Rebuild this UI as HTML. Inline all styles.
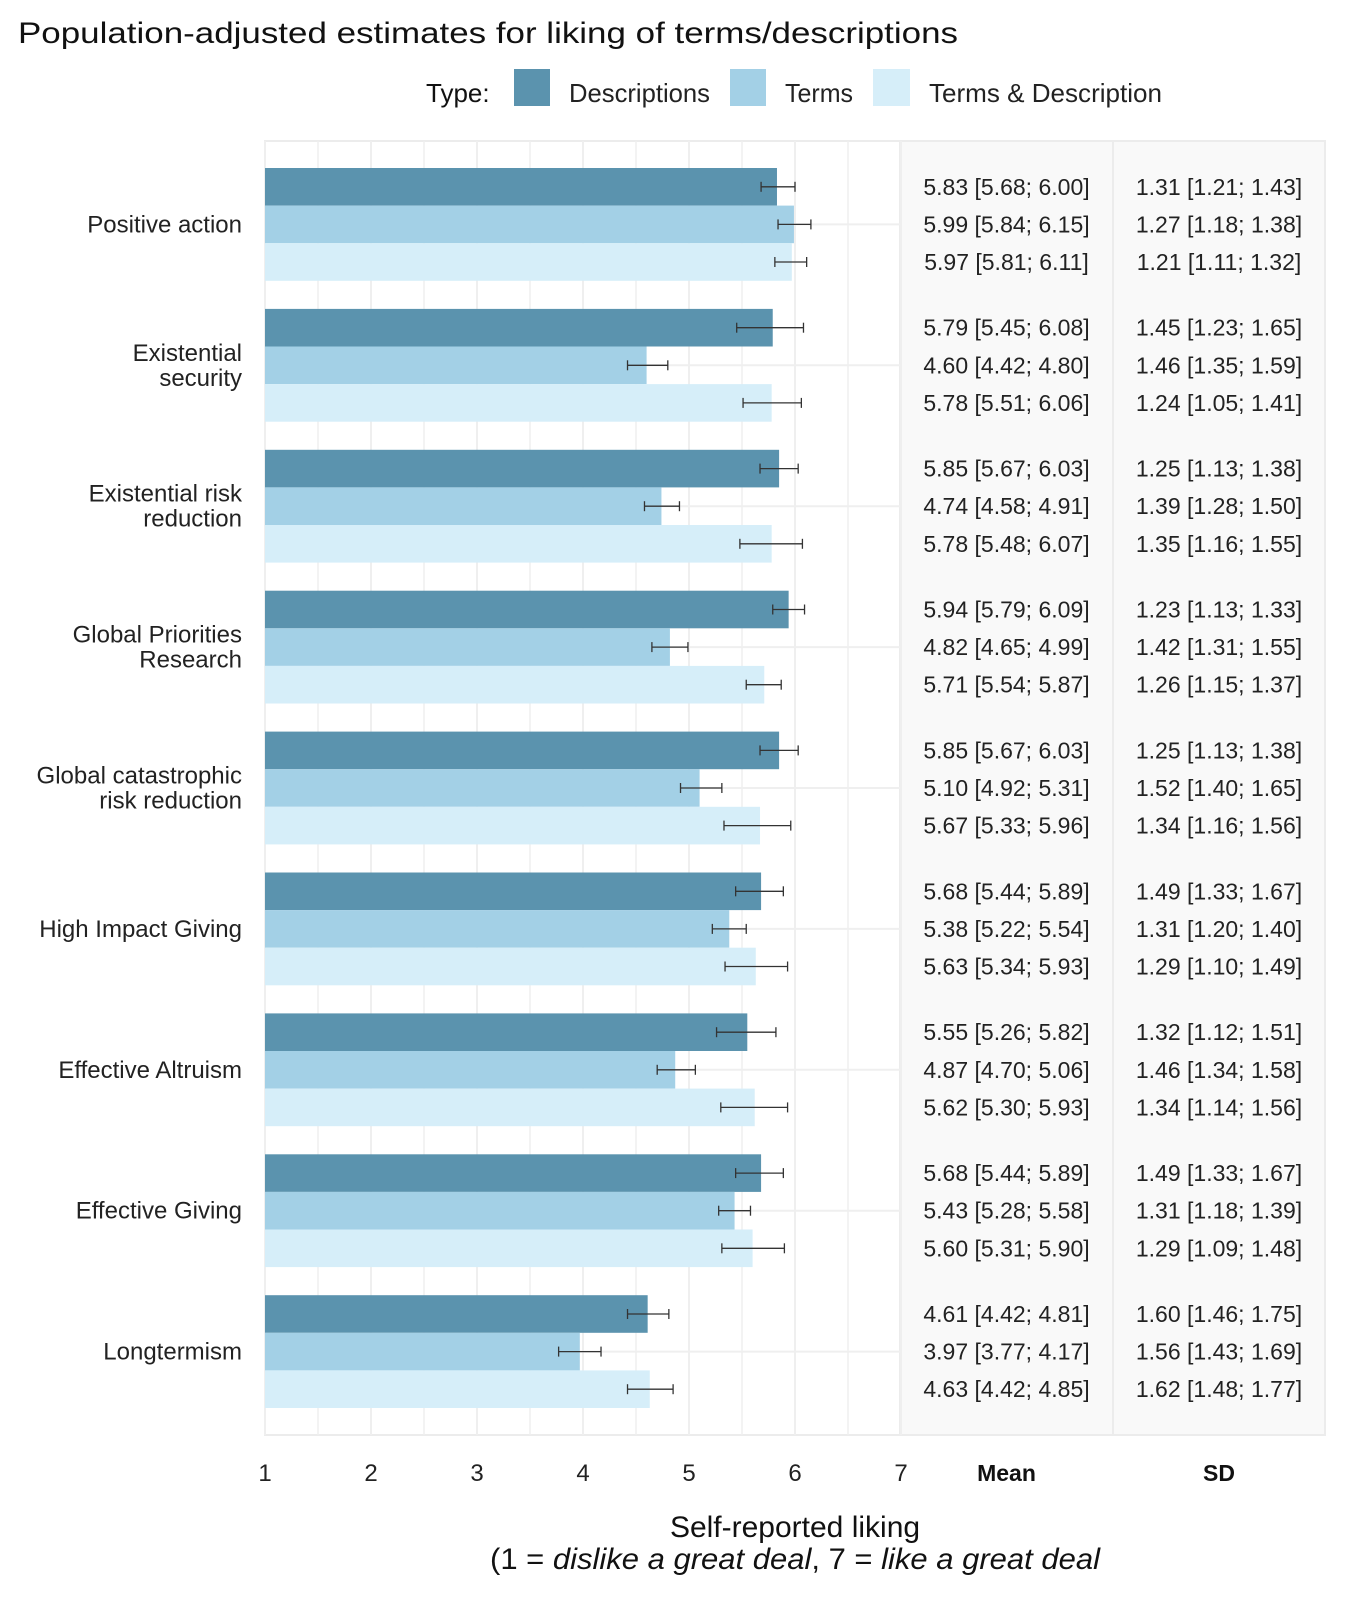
<!DOCTYPE html>
<html><head><meta charset="utf-8"><style>
body{margin:0;background:#fff;}
svg{display:block;font-family:"Liberation Sans",sans-serif;}
</style></head><body>
<svg id="c" width="1371" height="1600" xmlns="http://www.w3.org/2000/svg">
<text x="18" y="43" font-size="30" fill="#111" textLength="940" lengthAdjust="spacingAndGlyphs">Population-adjusted estimates for liking of terms/descriptions</text>
<g>
<text x="426" y="102" font-size="26" fill="#111">Type:</text>
<rect x="514" y="69" width="36" height="37" fill="#5b93ae"/>
<text x="569" y="102" font-size="26" fill="#222" textLength="141" lengthAdjust="spacingAndGlyphs">Descriptions</text>
<rect x="730" y="69" width="36" height="37" fill="#a3d0e6"/>
<text x="785" y="102" font-size="26" fill="#222" textLength="68" lengthAdjust="spacingAndGlyphs">Terms</text>
<rect x="873" y="69" width="37" height="37" fill="#d6eef9"/>
<text x="929" y="102" font-size="26" fill="#222" textLength="233" lengthAdjust="spacingAndGlyphs">Terms &amp; Description</text>
</g>
<g id="plot"></g>
<text x="795" y="1537" font-size="30" text-anchor="middle" fill="#111">Self-reported liking</text>
<text x="795" y="1569" font-size="30" text-anchor="middle" fill="#111" textLength="610" lengthAdjust="spacingAndGlyphs">(1 = <tspan font-style="italic">dislike a great deal</tspan>, 7 = <tspan font-style="italic">like a great deal</tspan></text>
</svg>
<script>
const categories=["Positive action","Existential security","Existential risk reduction","Global Priorities Research","Global catastrophic risk reduction","High Impact Giving","Effective Altruism","Effective Giving","Longtermism"];
const labelLines=[["Positive action"],["Existential","security"],["Existential risk","reduction"],["Global Priorities","Research"],["Global catastrophic","risk reduction"],["High Impact Giving"],["Effective Altruism"],["Effective Giving"],["Longtermism"]];
const types=["Descriptions","Terms","Terms & Description"];
const means=[[5.83,5.99,5.97],[5.79,4.60,5.78],[5.85,4.74,5.78],[5.94,4.82,5.71],[5.85,5.10,5.67],[5.68,5.38,5.63],[5.55,4.87,5.62],[5.68,5.43,5.60],[4.61,3.97,4.63]];
const lows=[[5.68,5.84,5.81],[5.45,4.42,5.51],[5.67,4.58,5.48],[5.79,4.65,5.54],[5.67,4.92,5.33],[5.44,5.22,5.34],[5.26,4.70,5.30],[5.44,5.28,5.31],[4.42,3.77,4.42]];
const highs=[[6.00,6.15,6.11],[6.08,4.80,6.06],[6.03,4.91,6.07],[6.09,4.99,5.87],[6.03,5.31,5.96],[5.89,5.54,5.93],[5.82,5.06,5.93],[5.89,5.58,5.90],[4.81,4.17,4.85]];
const sds=[[1.31,1.27,1.21],[1.45,1.46,1.24],[1.25,1.39,1.35],[1.23,1.42,1.26],[1.25,1.52,1.34],[1.49,1.31,1.29],[1.32,1.46,1.34],[1.49,1.31,1.29],[1.60,1.56,1.62]];
const sdLows=[[1.21,1.18,1.11],[1.23,1.35,1.05],[1.13,1.28,1.16],[1.13,1.31,1.15],[1.13,1.40,1.16],[1.33,1.20,1.10],[1.12,1.34,1.14],[1.33,1.18,1.09],[1.46,1.43,1.48]];
const sdHighs=[[1.43,1.38,1.32],[1.65,1.59,1.41],[1.38,1.50,1.55],[1.33,1.55,1.37],[1.38,1.65,1.56],[1.67,1.40,1.49],[1.51,1.58,1.56],[1.67,1.39,1.48],[1.75,1.69,1.77]];
const xTicks=[1,2,3,4,5,6,7];
const colors=["#5b93ae","#a3d0e6","#d6eef9"];
const NS="http://www.w3.org/2000/svg";
const g=document.getElementById('plot');
const X0=265,UNIT=106,TOP=141,BOT=1435,G0=168,PITCH=140.9,BH=37.6;
const MEANL=900,MEANR=1113,SDR=1325;
function x(v){return X0+(v-1)*UNIT;}
function yBar(i,j){return G0+i*PITCH+j*BH;}
function mk(tag,attrs,parent){const e=document.createElementNS(NS,tag);for(const k in attrs)e.setAttribute(k,attrs[k]);(parent||g).appendChild(e);return e;}
const f=v=>v.toFixed(2);
let r=mk('rect',{x:X0,y:TOP,width:x(7)-X0,height:BOT-TOP,fill:'#fff',stroke:'#ececec','stroke-width':2});


r=mk('rect',{x:MEANL,y:TOP,width:MEANR-MEANL,height:BOT-TOP,fill:'#f9f9f9',stroke:'#ececec','stroke-width':2});


r=mk('rect',{x:MEANR,y:TOP,width:SDR-MEANR,height:BOT-TOP,fill:'#f9f9f9',stroke:'#ececec','stroke-width':2});


for(let v=1;v<=7;v+=0.5){
 const l=mk('line',{x1:x(v),x2:x(v),y1:TOP,y2:BOT,stroke:'#efefef','stroke-width':v%1===0?2:1.5});
 
 
}
categories.forEach((c,i)=>{
 const yc=yBar(i,1)+BH/2;
 const l=mk('line',{x1:X0,x2:MEANL,y1:yc,y2:yc,stroke:'#efefef','stroke-width':2});
 
 
});
categories.forEach((c,i)=>{
 const yc=yBar(i,1)+BH/2;
 const lines=labelLines[i];
 lines.forEach((t,k)=>{
  const tx=mk('text',{x:242,y:yc+8+(k-(lines.length-1)/2)*25,'font-size':24,'text-anchor':'end',fill:'#222'});
  tx.textContent=t;
  
  
 });
 types.forEach((t,j)=>{
  const y=yBar(i,j),m=means[i][j];
  const b=mk('rect',{x:X0,y:y,width:x(m)-X0,height:BH,fill:colors[j]});
  
  
  const cy=y+BH/2;
  const eg=mk('g',{stroke:'#333','stroke-width':1.3});
  
  
  mk('line',{x1:x(lows[i][j]),x2:x(highs[i][j]),y1:cy,y2:cy},eg);
  mk('line',{x1:x(lows[i][j]),x2:x(lows[i][j]),y1:cy-5,y2:cy+5},eg);
  mk('line',{x1:x(highs[i][j]),x2:x(highs[i][j]),y1:cy-5,y2:cy+5},eg);
  const mt=mk('text',{x:(MEANL+MEANR)/2,y:cy+8,'font-size':23,'text-anchor':'middle',fill:'#222'});
  mt.textContent=f(m)+' ['+f(lows[i][j])+'; '+f(highs[i][j])+']';
  
  
  const st=mk('text',{x:(MEANR+SDR)/2,y:cy+8,'font-size':23,'text-anchor':'middle',fill:'#222'});
  st.textContent=f(sds[i][j])+' ['+f(sdLows[i][j])+'; '+f(sdHighs[i][j])+']';
  
  
 });
});
xTicks.forEach(v=>{
 const t=mk('text',{x:x(v),y:1481,'font-size':24,'text-anchor':'middle',fill:'#222'});
 t.textContent=v;
 
 
});
let h=mk('text',{x:(MEANL+MEANR)/2,y:1481,'font-size':23,'font-weight':'bold','text-anchor':'middle',fill:'#111'});
h.textContent='Mean';


h=mk('text',{x:(MEANR+SDR)/2,y:1481,'font-size':23,'font-weight':'bold','text-anchor':'middle',fill:'#111'});
h.textContent='SD';


</script>
</body></html>
